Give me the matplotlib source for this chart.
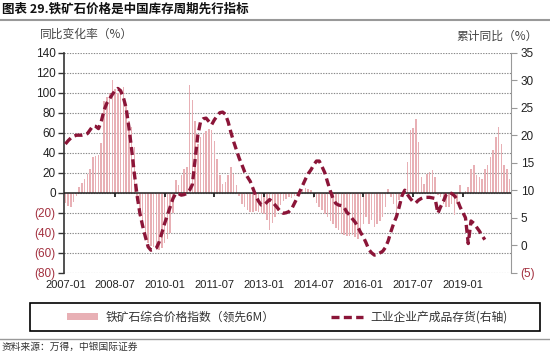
import matplotlib
matplotlib.use("Agg")
import matplotlib.pyplot as plt
from matplotlib.lines import Line2D
from matplotlib.patches import Patch, Rectangle
import numpy as np

plt.rcParams['font.family'] = ['Liberation Sans', 'Noto Sans CJK SC', 'DejaVu Sans']

# 铁矿石综合价格指数（领先6M），月度，2007-01 起
ore_yoy = [
    -10, -13, -14, -9, -3, 6, 10, 14, 19, 24,
    36, 37, 38, 50, 92, 96, 100, 113, 104, 100,
    103, 106, 89, 72, 66, 46, -8, -24, -33, -45,
    -50, -53, -54, -56, -57, -55, -50, -46, -40, -20,
    13, 8, 18, 24, 26, 108, 93, 72, 49, 56,
    60, 62, 64, 63, 52, 34, 18, 9, 11, 18,
    26, 19, 8, -3, -11, -14, -17, -19, -19, -18,
    -19, -20, -21, -27, -37, -30, -24, -18, -12, -8,
    -6, -4, -5, -3, -2, 2, 4, 5, 4, 3,
    -5, -10, -14, -17, -21, -24, -28, -31, -35, -37,
    -41, -42, -43, -43, -42, -44, -46, -37, -31, -24,
    -31, -27, -34, -31, -28, -24, -14, 4, -4, -11,
    -21, -7, -2, 4, 31, 63, 65, 74, 51, 16,
    9, 19, 21, 23, 16, -2, -4, -11, -14, -14,
    -11, -22, -11, 8, -2, 2, 6, 24, 28, 18,
    16, 14, 24, 28, 36, 43, 56, 66, 49, 28,
    24, 14,
]

# 工业企业产成品存货累计同比（右轴），月度，2007-01 起
inventory_yoy = [
    18.4, 19.0, 19.5, 19.8, 20.0, 20.0, 20.0, 20.1, 20.3, 21.0,
    21.7, 21.6, 21.2, 22.5, 24.5, 25.8, 26.6, 27.4, 28.1, 28.5,
    28.1, 26.9, 25.0, 21.5, 17.5, 13.0, 9.0, 5.8, 3.5, 1.5,
    -0.3, -0.9, -0.8, -0.5, 0.6, 2.3, 4.0, 5.5, 7.0, 8.5,
    9.4, 9.4, 9.1, 9.2, 9.4, 10.0, 11.0, 15.5, 20.0, 22.5,
    23.0, 23.1, 22.5, 21.9, 22.8, 23.5, 24.1, 24.2, 23.8, 22.4,
    20.5, 18.8, 17.3, 15.8, 14.6, 13.3, 12.4, 11.6, 10.3, 9.0,
    8.0, 7.3, 7.3, 7.8, 8.3, 7.9, 7.3, 6.7, 6.1, 5.8,
    5.9, 6.1, 6.6, 7.6, 8.6, 9.8, 10.9, 12.0, 13.0, 13.7,
    14.6, 15.3, 15.3, 14.3, 13.2, 11.5, 9.9, 8.5, 7.6, 7.3,
    7.2, 6.9, 6.0, 5.5, 4.8, 4.2, 3.3, 2.3, 1.5, 0.4,
    -0.8, -1.4, -1.8, -1.7, -1.4, -1.1, -0.4, 0.8, 2.5, 4.0,
    5.2, 7.0, 9.0, 10.0, 9.2, 8.5, 7.9, 7.7, 8.2, 8.5,
    8.7, 8.7, 8.7, 8.6, 8.5, 5.8, 7.0, 8.0, 9.2, 9.6,
    9.4, 9.0, 8.3, 7.0, 6.0, 5.0, 0.3, 4.4, 4.0, 3.3,
    2.6, 1.8, 1.0,
]

tick_labels = ['2007-01', '2008-07', '2010-01', '2011-07', '2013-01',
               '2014-07', '2016-01', '2017-07', '2019-01']
left_ticks = [140, 120, 100, 80, 60, 40, 20, 0, -20, -40, -60, -80]
right_ticks = [35, 30, 25, 20, 15, 10, 5, 0, -5]

bar_color = '#e8b0b5'
line_color = '#8b1538'
neg_color = '#a3303f'


def fmt(v):
    return f'({abs(v)})' if v < 0 else str(v)


fig = plt.figure(figsize=(5.5, 3.54), dpi=100)
ax = fig.add_axes([64 / 550, 1 - 272.7 / 354, 447 / 550, 220 / 354])

months = np.arange(len(ore_yoy))
ax.bar(months, ore_yoy, width=0.55, color=bar_color, linewidth=0, zorder=2)
ax.axhline(0, color='#222222', lw=1.1, zorder=3)
tick_pos = [i * 18 for i in range(len(tick_labels))]
ax.vlines(tick_pos[1:], -4, 0, color='#222222', lw=1.3, zorder=3)

ax.set_xlim(-0.5, 161.5)
ax.set_ylim(-80, 140)
ax.set_yticks(left_ticks)
ax.set_yticklabels([fmt(v) for v in left_ticks])
for lab, v in zip(ax.get_yticklabels(), left_ticks):
    lab.set_color(neg_color if v < 0 else '#222222')
ax.set_xticks(tick_pos)
ax.set_xticklabels(tick_labels)
ax.tick_params(axis='x', length=0, pad=5, labelsize=8, colors='#222222')
ax.tick_params(axis='y', length=4, width=1, pad=2, labelsize=8.5, color='#333333')
ax.yaxis.grid(True, linestyle=(0, (1.2, 1.2)), color='#888888', lw=0.8)
ax.set_axisbelow(True)
for s in ['top', 'bottom', 'right']:
    ax.spines[s].set_visible(False)
ax.spines['left'].set_color('#333333')
ax.spines['left'].set_linewidth(1.2)

ax2 = ax.twinx()
ax2.plot(np.arange(len(inventory_yoy)), inventory_yoy, color=line_color,
         lw=2.4, linestyle=(0, (2.4, 1.3)), zorder=4)
ax2.set_ylim(-5, 35)
ax2.set_yticks(right_ticks)
ax2.set_yticklabels([fmt(v) for v in right_ticks])
for lab, v in zip(ax2.get_yticklabels(), right_ticks):
    lab.set_color(neg_color if v < 0 else '#222222')
ax2.tick_params(axis='y', length=4, width=0.8, pad=3, labelsize=8.5, color='#999999')
for s in ['top', 'bottom', 'left']:
    ax2.spines[s].set_visible(False)
ax2.spines['right'].set_color('#999999')

cjk = ['Noto Sans CJK SC', 'DejaVu Sans']
fig.text(2 / 550, 1 - 9 / 354, '图表 29.铁矿石价格是中国库存周期先行指标', fontsize=9,
         fontweight='bold', family=cjk, va='center', ha='left', color='#111111')
fig.add_artist(Line2D([0, 1], [1 - 20 / 354, 1 - 20 / 354], color='#999999', lw=1.5))
fig.text(40 / 550, 1 - 34 / 354, '同比变化率（%）', fontsize=8.5, family=cjk,
         va='center', ha='left', color='#444444')
fig.text(538 / 550, 1 - 36 / 354, '累计同比（%）', fontsize=8.5, family=cjk,
         va='center', ha='right', color='#444444')

# legend box drawn separately so it spans the full width like the original
fig.add_artist(Rectangle((30 / 550, 1 - 331 / 354), 510 / 550, 28.3 / 354,
                         transform=fig.transFigure, fill=False,
                         edgecolor='black', lw=1.2))
handles = [Patch(facecolor=bar_color, edgecolor='none'),
           Line2D([], [], color=line_color, lw=2.4, linestyle=(0, (2.4, 1.3)))]
labels = ['铁矿石综合价格指数（领先6M）', '工业企业产成品存货(右轴)']
leg = fig.legend(handles, labels, loc='center', ncol=2,
                 bbox_to_anchor=(287 / 550, 1 - 317 / 354),
                 frameon=False, prop={'family': cjk, 'size': 8.5},
                 handlelength=2.7, handleheight=0.5, columnspacing=4.8,
                 handletextpad=0.6)
for t in leg.get_texts():
    t.set_color('#333333')

fig.add_artist(Line2D([0, 1], [1 - 339 / 354, 1 - 339 / 354], color='#999999', lw=1.0))
fig.text(2 / 550, 1 - 347 / 354, '资料来源：万得，中银国际证券', fontsize=7, family=cjk,
         style='italic', va='center', ha='left', color='#333333')

fig.savefig('out.png', dpi=100)
